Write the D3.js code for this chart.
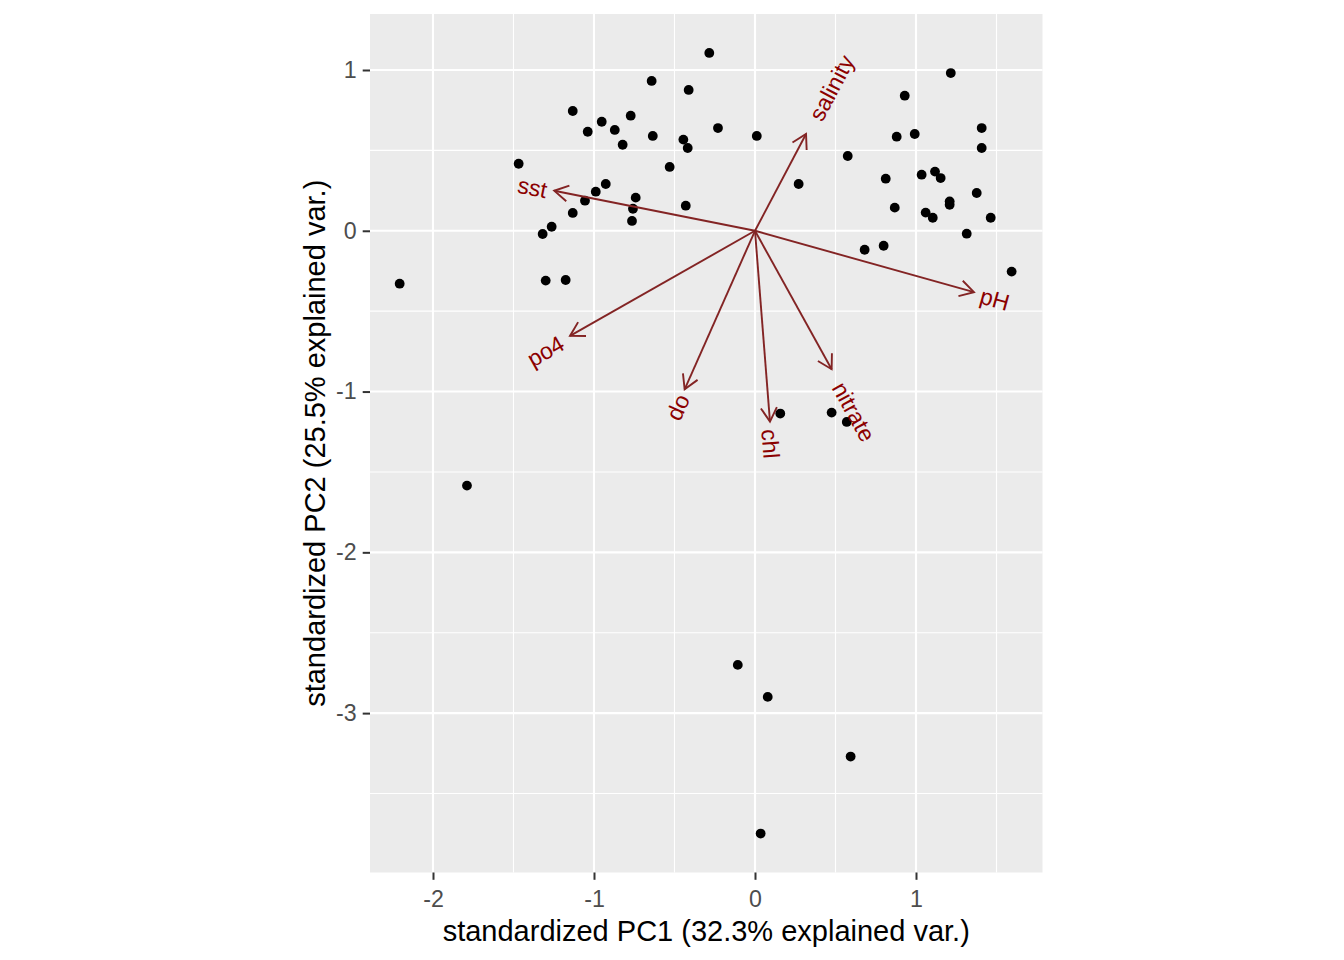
<!DOCTYPE html>
<html>
<head>
<meta charset="utf-8">
<script src="https://cdn.jsdelivr.net/npm/d3@7"></script>
<style>
  html, body { margin: 0; padding: 0; background: #ffffff; }
  svg { display: block; font-family: "Liberation Sans", Arial, sans-serif; }
</style>
</head>
<body>
<svg id="chart" width="1344" height="960"></svg>
<script>
// ---- data ----
const pc1 = [-0.284,-0.642,-0.412,-1.132,-0.952,-0.772,-1.039,-0.871,-0.635,-0.822,-0.445,-0.418,-1.468,-0.530,-0.927,-0.989,-1.056,-0.741,-0.758,-0.764,-0.430,-1.132,-1.263,-1.319,-2.207,-1.300,-1.176,
  1.216,0.930,-0.230,0.011,1.408,0.880,0.992,1.408,0.576,0.271,0.812,1.035,1.118,1.153,1.377,1.209,1.209,0.868,1.060,1.104,1.464,1.315,0.681,0.799,1.594,
  -1.789,0.157,0.476,0.570,-0.107,0.079,0.594,0.035];
const pc2 = [1.106,0.932,0.876,0.745,0.678,0.716,0.616,0.627,0.590,0.535,0.567,0.515,0.417,0.397,0.291,0.243,0.187,0.206,0.137,0.061,0.156,0.111,0.025,-0.020,-0.329,-0.310,-0.306,
  0.981,0.840,0.639,0.590,0.639,0.585,0.602,0.515,0.465,0.291,0.324,0.349,0.368,0.328,0.235,0.183,0.162,0.144,0.113,0.081,0.081,-0.018,-0.118,-0.093,-0.254,
  -1.585,-1.137,-1.131,-1.189,-2.700,-2.899,-3.270,-3.749];

const varNames = ["salinity","pH","sst","po4","do","chl","nitrate"];
const loadX = [0.317, 1.360, -1.247, -1.149, -0.437, 0.093, 0.476];
const loadY = [0.602, -0.382, 0.249, -0.654, -0.986, -1.187, -0.861];

const xTicks = [-2, -1, 0, 1];
const xMinor = [-1.5, -0.5, 0.5, 1.5];
const yTicks = [1, 0, -1, -2, -3];
const yMinor = [0.5, -0.5, -1.5, -2.5, -3.5];

const xTitle = "standardized PC1 (32.3% explained var.)";
const yTitle = "standardized PC2 (25.5% explained var.)";

// ---- layout ----
const panel = { left: 370, right: 1042.5, top: 14, bottom: 872.5 };
const x = d3.scaleLinear().domain([-2.3913, 1.7857]).range([panel.left, panel.right]);
const y = d3.scaleLinear().domain([1.3483, -3.9913]).range([panel.top, panel.bottom]);

const svg = d3.select("#chart");
const arrowCol = "#832424";
const labelCol = "#8B0000";

// panel background
svg.append("rect")
  .attr("x", panel.left).attr("y", panel.top)
  .attr("width", panel.right - panel.left).attr("height", panel.bottom - panel.top)
  .attr("fill", "#EBEBEB");

const grid = svg.append("g");
// minor grid
grid.selectAll(".vminor").data(xMinor.filter(v => x(v) > panel.left && x(v) < panel.right)).join("line")
  .attr("x1", d => x(d)).attr("x2", d => x(d)).attr("y1", panel.top).attr("y2", panel.bottom)
  .attr("stroke", "#fff").attr("stroke-width", 1.1);
grid.selectAll(".hminor").data(yMinor).join("line")
  .attr("y1", d => y(d)).attr("y2", d => y(d)).attr("x1", panel.left).attr("x2", panel.right)
  .attr("stroke", "#fff").attr("stroke-width", 1.1);
// major grid
grid.selectAll(".vmajor").data(xTicks).join("line")
  .attr("x1", d => x(d)).attr("x2", d => x(d)).attr("y1", panel.top).attr("y2", panel.bottom)
  .attr("stroke", "#fff").attr("stroke-width", 2.1);
grid.selectAll(".hmajor").data(yTicks).join("line")
  .attr("y1", d => y(d)).attr("y2", d => y(d)).attr("x1", panel.left).attr("x2", panel.right)
  .attr("stroke", "#fff").attr("stroke-width", 2.1);

// points
svg.append("g").selectAll("circle").data(pc1.map((v, i) => [v, pc2[i]])).join("circle")
  .attr("cx", d => x(d[0])).attr("cy", d => y(d[1])).attr("r", 4.9).attr("fill", "#000");

// arrows
const headLen = 16, headAng = Math.PI / 6;
const ag = svg.append("g").attr("stroke", arrowCol).attr("stroke-width", 1.9).attr("fill", "none");
varNames.forEach((name, i) => {
  const x0 = x(0), y0 = y(0), x1 = x(loadX[i]), y1 = y(loadY[i]);
  ag.append("line").attr("x1", x0).attr("y1", y0).attr("x2", x1).attr("y2", y1);
  const th = Math.atan2(y1 - y0, x1 - x0);
  const pA = [x1 - headLen * Math.cos(th - headAng), y1 - headLen * Math.sin(th - headAng)];
  const pB = [x1 - headLen * Math.cos(th + headAng), y1 - headLen * Math.sin(th + headAng)];
  ag.append("path").attr("d", `M${pA[0]},${pA[1]}L${x1},${y1}L${pB[0]},${pB[1]}`);
});

// arrow labels
const lg = svg.append("g");
varNames.forEach((name, i) => {
  const ang = Math.atan(loadY[i] / loadX[i]) * 180 / Math.PI;
  const g = lg.append("g").attr("transform", `translate(${x(loadX[i])},${y(loadY[i])}) rotate(${-ang})`);
  const t = g.append("text").text(name)
    .attr("font-size", 23).attr("fill", labelCol).attr("dy", "0.4em");
  const w = t.node().getComputedTextLength();
  if (loadX[i] >= 0) {
    t.attr("text-anchor", "start").attr("x", 0.25 * w);
  } else {
    t.attr("text-anchor", "end").attr("x", -0.25 * w);
  }
});

// axes
const xAxis = svg.append("g").attr("transform", `translate(0,${panel.bottom})`)
  .call(d3.axisBottom(x).tickValues(xTicks).tickFormat(d3.format("d")).tickSize(7.3).tickPadding(10.5));
xAxis.select(".domain").remove();
xAxis.selectAll(".tick line").attr("stroke", "#333333").attr("stroke-width", 2);
xAxis.selectAll(".tick text").attr("fill", "#4D4D4D").attr("font-size", 23.2)
  .attr("font-family", "Liberation Sans, Arial, sans-serif").text(d => d < 0 ? "-" + Math.abs(d) : d);

const yAxis = svg.append("g").attr("transform", `translate(${panel.left},0)`)
  .call(d3.axisLeft(y).tickValues(yTicks).tickFormat(d3.format("d")).tickSize(7.3).tickPadding(6));
yAxis.select(".domain").remove();
yAxis.selectAll(".tick line").attr("stroke", "#333333").attr("stroke-width", 2);
yAxis.selectAll(".tick text").attr("fill", "#4D4D4D").attr("font-size", 23.2)
  .attr("font-family", "Liberation Sans, Arial, sans-serif").text(d => d < 0 ? "-" + Math.abs(d) : d);

// titles
svg.append("text").text(xTitle)
  .attr("x", (panel.left + panel.right) / 2).attr("y", 941)
  .attr("text-anchor", "middle").attr("font-size", 29).attr("fill", "#000");
svg.append("text").text(yTitle)
  .attr("transform", `translate(325,${(panel.top + panel.bottom) / 2}) rotate(-90)`)
  .attr("text-anchor", "middle").attr("font-size", 29).attr("fill", "#000");
</script>
</body>
</html>
